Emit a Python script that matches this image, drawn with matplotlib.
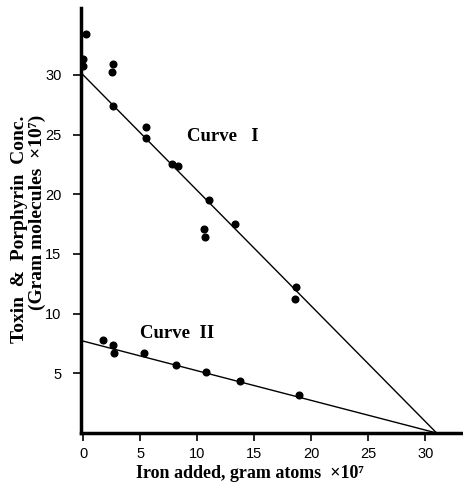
import matplotlib
matplotlib.use("Agg")
import matplotlib.pyplot as plt

# Curve I : toxin (upper points)
curve1_x = [0.26, 0.0, 0.0, 2.66, 2.52, 2.66, 5.53, 5.53, 7.78, 8.3,
            11.05, 10.64, 10.7, 13.33, 18.7, 18.6]
curve1_y = [33.4, 31.3, 30.7, 30.9, 30.2, 27.4, 25.6, 24.7, 22.5, 22.4,
            19.5, 17.1, 16.4, 17.5, 12.2, 11.2]

# Curve II : porphyrin (lower points)
curve2_x = [1.78, 2.66, 2.72, 5.38, 8.13, 10.76, 13.77, 18.9]
curve2_y = [7.8, 7.4, 6.7, 6.7, 5.7, 5.1, 4.35, 3.15]

# fitted straight lines, both meeting the x axis at ~31
line1_x = [0.0, 31.0]
line1_y = [30.0, 0.0]
line2_x = [0.0, 31.0]
line2_y = [7.7, 0.0]

x_ticks = [0, 5, 10, 15, 20, 25, 30]
y_ticks = [5, 10, 15, 20, 25, 30]

SERIF = ["Liberation Serif", "DejaVu Serif"]

fig = plt.figure(figsize=(4.64, 4.92), dpi=100)
ax = fig.add_axes([81 / 464, 59 / 492, 383 / 464, 425 / 492])

ax.plot(line1_x, line1_y, color="black", linewidth=1.0)
ax.plot(line2_x, line2_y, color="black", linewidth=1.0)
ax.plot(curve1_x, curve1_y, "o", color="black", markersize=4.8)
ax.plot(curve2_x, curve2_y, "o", color="black", markersize=4.8)

ax.set_xlim(-0.18, 33.4)
ax.set_ylim(0, 35.6)
ax.set_xticks(x_ticks)
ax.set_yticks(y_ticks)

for side in ("top", "right"):
    ax.spines[side].set_visible(False)
for side in ("left", "bottom"):
    ax.spines[side].set_linewidth(2.5)

ax.tick_params(axis="both", direction="out", length=6, width=1.2,
               labelsize=10.5)
ax.tick_params(axis="x", pad=4)
ax.tick_params(axis="y", pad=8)
for lbl in ax.get_xticklabels() + ax.get_yticklabels():
    lbl.set_family("Liberation Sans")

ax.text(9.1, 24.85, "Curve   I", family=SERIF, fontweight="bold",
        fontsize=13.5, ha="left", va="center")
ax.text(5.0, 8.37, "Curve  II", family=SERIF, fontweight="bold",
        fontsize=13.5, ha="left", va="center")

fig.text(250 / 464, 1 - 474 / 492, "Iron added, gram atoms  \u00d710\u2077",
         family=SERIF, fontweight="bold", fontsize=13, ha="center", va="center")
fig.text(20 / 464, 1 - 229 / 492, "Toxin  &  Porphyrin  Conc.",
         family=SERIF, fontweight="bold", fontsize=14, rotation=90,
         ha="center", va="center")
fig.text(37 / 464, 1 - 212 / 492, "(Gram molecules  \u00d710\u2077)",
         family=SERIF, fontweight="bold", fontsize=14, rotation=90,
         ha="center", va="center")

fig.savefig("out.png", dpi=100)
